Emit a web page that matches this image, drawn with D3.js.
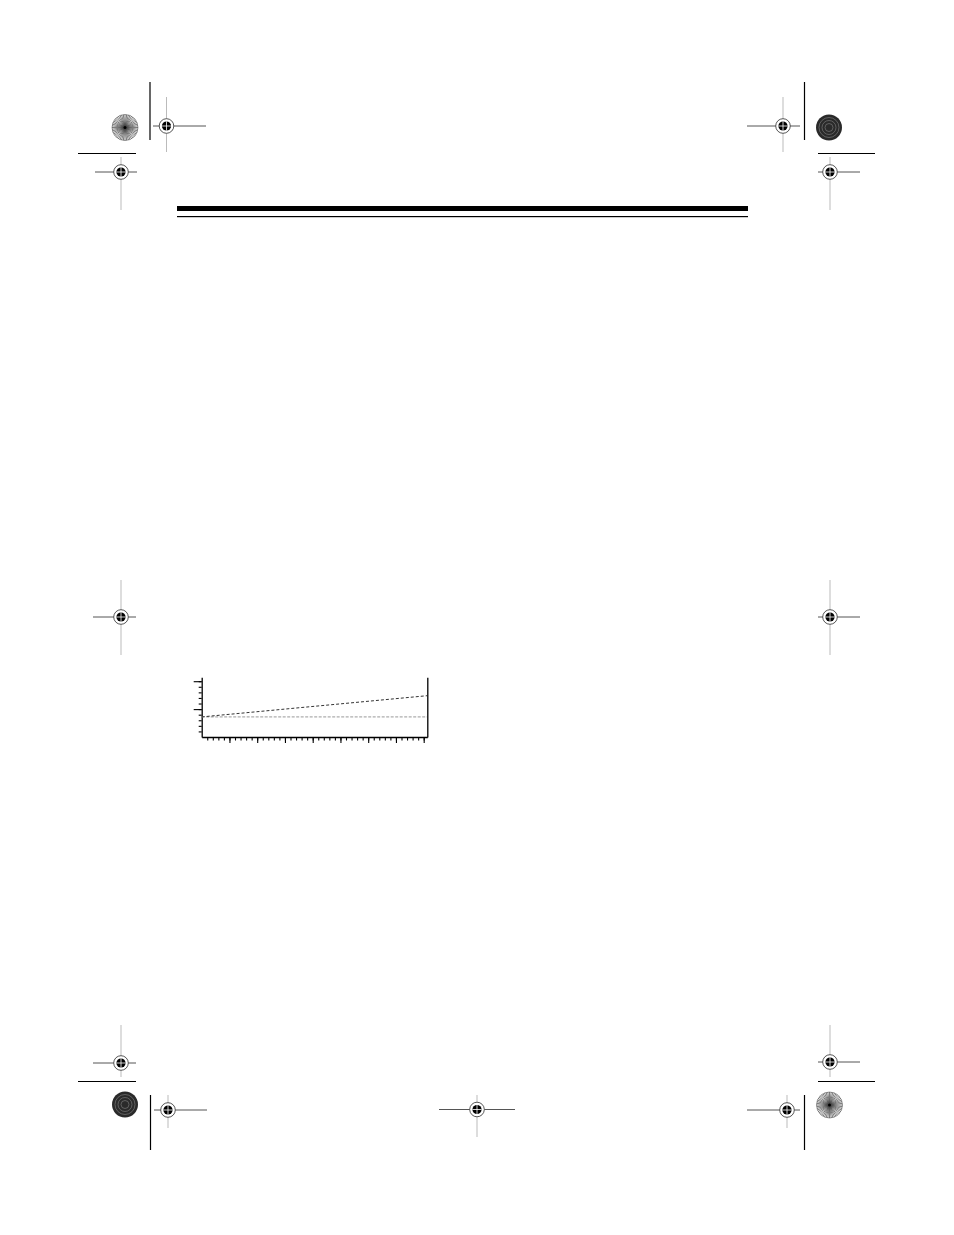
<!DOCTYPE html>
<html><head><meta charset="utf-8">
<script src="https://cdn.jsdelivr.net/npm/d3@7/dist/d3.min.js"></script>
<style>html,body{margin:0;padding:0;background:#fff;}svg{display:block;}</style>
</head><body>
<script>
// ---- data ----
const xValues = [0, 40.6];
const risingSeries = [3.6, 7.4];
const flatSeries = [3.6, 3.6];
const xMinorTicks = d3.range(1, 41);
const xMajorTicks = [5, 10, 15, 20, 25, 30, 35, 40];
const yMinorTicks = d3.range(1, 11);
const yMajorTicks = [5, 10];

const W = 954, H = 1235;
const svg = d3.select("body").append("svg").attr("width", W).attr("height", H);

// ---- page decoration: header rules ----
svg.append("rect").attr("x", 177).attr("y", 206).attr("width", 571).attr("height", 5).attr("fill", "#000");
svg.append("rect").attr("x", 177).attr("y", 216).attr("width", 571).attr("height", 1.2).attr("fill", "#000");

// ---- registration marks ----
function line(x1, y1, x2, y2, c, w) {
  svg.append("line").attr("x1", x1).attr("y1", y1).attr("x2", x2).attr("y2", y2)
    .attr("stroke", c).attr("stroke-width", w || 1);
}
function cross(cx, cy, x1, x2, y1, y2) {
  line(x1, cy, x2, cy, "#555", 1);
  line(cx, y1, cx, y2, "#bbb", 1);
  svg.append("circle").attr("cx", cx).attr("cy", cy).attr("r", 7.3).attr("fill", "#fff").attr("stroke", "#444").attr("stroke-width", 0.9);
  svg.append("circle").attr("cx", cx).attr("cy", cy).attr("r", 4.6).attr("fill", "#000");
  line(cx - 4.6, cy, cx + 4.6, cy, "#fff", 0.8);
  line(cx, cy - 4.6, cx, cy + 4.6, "#fff", 0.8);
}
function starburst(cx, cy) {
  const g = svg.append("g");
  g.append("circle").attr("cx", cx).attr("cy", cy).attr("r", 13).attr("fill", "#fff").attr("stroke", "#888").attr("stroke-width", 0.8);
  for (let i = 0; i < 48; i++) {
    const a = i * Math.PI / 24;
    g.append("line").attr("x1", cx).attr("y1", cy)
      .attr("x2", cx + 13 * Math.cos(a)).attr("y2", cy + 13 * Math.sin(a))
      .attr("stroke", "#444").attr("stroke-width", 0.7);
  }
  g.append("circle").attr("cx", cx).attr("cy", cy).attr("r", 1.5).attr("fill", "#000");
}
function darkDisc(cx, cy) {
  svg.append("circle").attr("cx", cx).attr("cy", cy).attr("r", 13).attr("fill", "#2a2a2a");
  [10, 7, 4].forEach(r => svg.append("circle").attr("cx", cx).attr("cy", cy).attr("r", r)
    .attr("fill", "none").attr("stroke", "#777").attr("stroke-width", 0.7));
}

// top-left
starburst(125, 127.5);
line(150, 82, 150, 140, "#000", 1.2);
cross(166.5, 126, 153, 206, 97, 152);
line(78, 153.5, 136, 153.5, "#000", 1.2);
cross(121, 172, 95, 137, 157, 210);
// top-right
cross(783, 126, 747, 800, 97, 152);
line(804.5, 82, 804.5, 140, "#000", 1.2);
darkDisc(829, 127.5);
line(818, 153.5, 875, 153.5, "#000", 1.2);
cross(830, 172, 818, 860, 157, 210);
// middle
cross(121, 617, 93, 136, 580, 655);
cross(830, 617, 818, 860, 580, 655);
// bottom-left
cross(121, 1063, 93, 136, 1025, 1077);
line(78, 1081.5, 136, 1081.5, "#000", 1.2);
darkDisc(125, 1104.5);
line(150.5, 1095, 150.5, 1150, "#000", 1.2);
cross(168, 1110, 154, 207, 1095, 1128);
// bottom middle
cross(477, 1109.5, 439, 515, 1095, 1137);
// bottom-right
cross(830, 1062, 818, 860, 1025, 1077);
line(818, 1081.5, 875, 1081.5, "#000", 1.2);
line(804.5, 1095, 804.5, 1150, "#000", 1.2);
starburst(829.5, 1105);
cross(787, 1110, 747, 800, 1095, 1128);

// ---- chart ----
const x = d3.scaleLinear().domain([0, 40.65]).range([201.7, 427.3]);
const y = d3.scaleLinear().domain([0, 10.7]).range([737, 677.3]);

const chart = svg.append("g");
function styleAxis(g) {
  g.selectAll("path").attr("stroke", "#000").attr("stroke-width", 1.3);
  g.selectAll(".tick line").attr("stroke", "#000").attr("stroke-width", 1.1);
  g.selectAll("text").remove();
}
chart.append("g").attr("transform", `translate(0,${y(0)})`)
  .call(d3.axisBottom(x).tickValues(xMinorTicks).tickSize(3.5).tickSizeOuter(0)).call(styleAxis);
chart.append("g").attr("transform", `translate(0,${y(0)})`)
  .call(d3.axisBottom(x).tickValues(xMajorTicks).tickSize(6).tickSizeOuter(0)).call(styleAxis)
  .select("path").remove();
chart.append("g").attr("transform", `translate(${x(0)},0)`)
  .call(d3.axisLeft(y).tickValues(yMinorTicks).tickSize(3).tickSizeOuter(0)).call(styleAxis);
chart.append("g").attr("transform", `translate(${x(0)},0)`)
  .call(d3.axisLeft(y).tickValues(yMajorTicks).tickSize(8).tickSizeOuter(0)).call(styleAxis)
  .select("path").remove();
chart.append("g").attr("transform", `translate(${x(40.65)},0)`)
  .call(d3.axisRight(y).tickValues([]).tickSizeOuter(0)).call(styleAxis);

const lineGen = d3.line().x((d, i) => x(xValues[i])).y(d => y(d));
chart.append("path").datum(flatSeries).attr("d", lineGen)
  .attr("fill", "none").attr("stroke", "#999").attr("stroke-width", 1).attr("stroke-dasharray", "3,1.5");
chart.append("path").datum(risingSeries).attr("d", lineGen)
  .attr("fill", "none").attr("stroke", "#333").attr("stroke-width", 1).attr("stroke-dasharray", "3,2");
</script>
</body></html>
